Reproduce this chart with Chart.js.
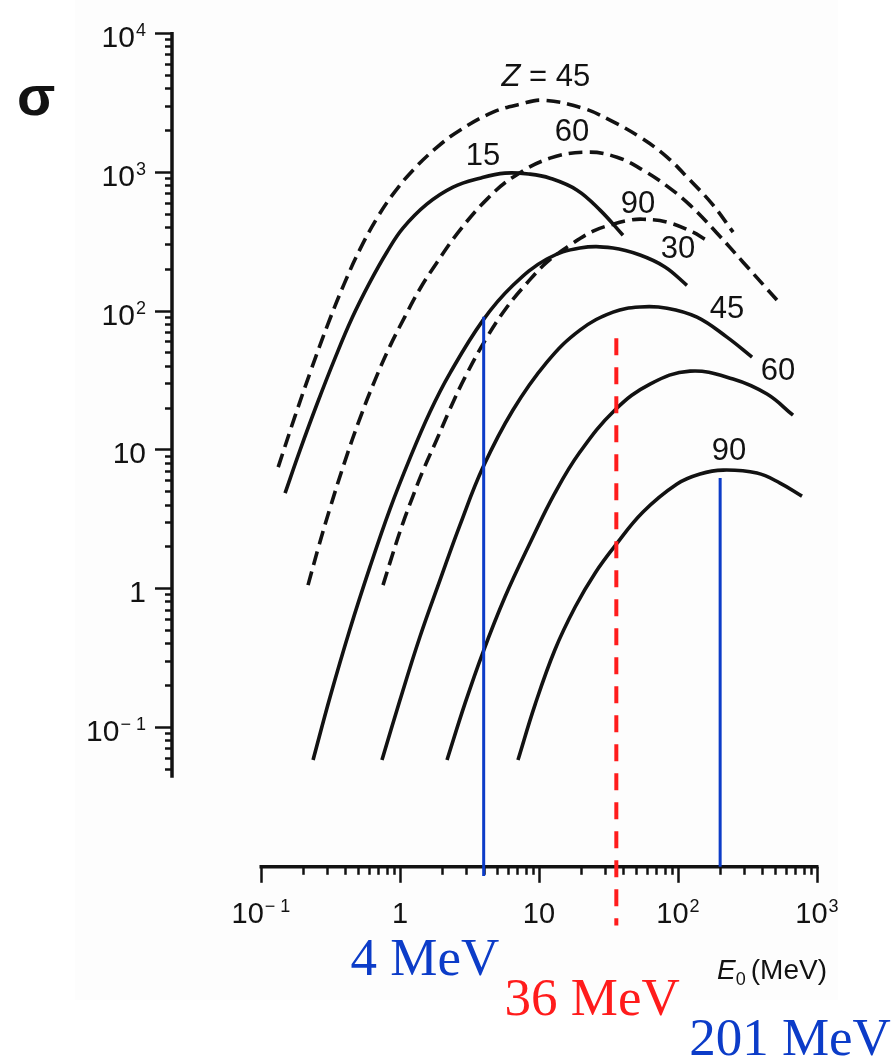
<!DOCTYPE html>
<html>
<head>
<meta charset="utf-8">
<script src="https://cdn.jsdelivr.net/npm/chart.js@4.4.1/dist/chart.umd.min.js"></script>
<style>
  html, body { margin: 0; padding: 0; background: #ffffff; }
  canvas { display: block; }
</style>
</head>
<body>
<canvas id="chart" width="893" height="1062"></canvas>
<script>
// Cross section sigma against incident energy E0 (MeV), log-log.
// Solid curves: Z = 15, 30, 45, 60, 90.  Dashed curves: Z = 45, 60, 90.

const solidE15 = [0.149, 0.191, 0.253, 0.341, 0.452, 0.608, 0.806, 1.05, 1.56, 2.41, 3.76, 5.69, 8.62, 12.0, 18.8, 27.5, 40.2];
const solidS15 = [4.83, 9.87, 21.2, 45.4, 88.2, 160, 264, 392, 584, 775, 899, 977, 961, 899, 737, 529, 349];

const solidE30 = [0.237, 0.314, 0.437, 0.608, 0.847, 1.18, 1.64, 2.29, 3.96, 6.50, 11.4, 19.7, 34.1, 53.3, 80.6, 116];
const solidS30 = [0.0577, 0.164, 0.507, 1.42, 3.71, 8.64, 18.5, 35.4, 85.3, 152, 235, 282, 282, 251, 206, 152];

const solidE45 = [0.742, 1.0, 1.39, 1.94, 2.70, 3.96, 6.50, 11.4, 19.7, 34.1, 53.3, 83.4, 137, 225, 341];
const solidS45 = [0.0577, 0.156, 0.444, 1.14, 2.84, 7.44, 19.2, 42.5, 72.3, 97.4, 106, 104, 89.6, 64.3, 46.2];

const solidE60 = [2.18, 2.94, 3.96, 5.69, 8.62, 13.0, 19.7, 35.2, 62.9, 122, 249, 437, 672];
const solidS60 = [0.0577, 0.148, 0.346, 0.861, 2.11, 4.83, 9.55, 19.2, 29.5, 36.6, 32.1, 25.0, 17.6];

const solidE90 = [7.06, 9.36, 13.0, 18.2, 25.3, 35.2, 56.0, 98.4, 144, 211, 370, 542, 780];
const solidS90 = [0.0577, 0.144, 0.358, 0.730, 1.28, 2.01, 3.53, 5.62, 6.63, 7.08, 6.74, 5.71, 4.60];

const dashE45 = [0.133, 0.176, 0.229, 0.303, 0.396, 0.516, 0.683, 0.891, 1.24, 1.85, 2.70, 4.67, 7.30, 10.7, 20.7, 32.4, 53.3, 83.4, 122, 179, 249];
const dashS45 = [7.44, 17.4, 37.2, 79.8, 155, 277, 463, 690, 1027, 1504, 1994, 2688, 3069, 3280, 2872, 2353, 1776, 1274, 870, 575, 367];

const dashE60 = [0.218, 0.257, 0.314, 0.402, 0.516, 0.661, 0.847, 1.09, 1.39, 1.85, 2.70, 4.23, 6.50, 12.0, 22.2, 36.4, 56.0, 83.4, 122, 191, 294, 515];
const dashS60 = [1.05, 1.91, 3.77, 8.22, 16.8, 31.5, 55.4, 91.1, 143, 223, 380, 635, 914, 1253, 1384, 1274, 1027, 788, 575, 361, 223, 119];

const dashE90 = [0.755, 0.891, 1.05, 1.24, 1.46, 1.85, 2.29, 2.94, 4.23, 5.89, 8.20, 11.4, 16.7, 24.5, 34.1, 45.2, 56.0, 83.4, 128, 156];
const dashS90 = [1.05, 1.79, 2.94, 4.60, 6.97, 11.9, 19.5, 33.1, 64.3, 106, 158, 223, 296, 373, 419, 448, 455, 434, 367, 327];

// Marker energies (MeV) with the sigma span each marker line covers
const markerE = [4, 36, 201];
const markerTop = [90, 63, 6.2];
const markerBottom = [0.0084, 0.0037, 0.0098];
const markerText = ['4 MeV', '36 MeV', '201 MeV'];

// Axis ticks
const yTickValues = [1e4, 1e3, 1e2, 10, 1, 0.1];
const yTickBase = ['10', '10', '10', '10', '1', '10'];
const yTickSup = ['4', '3', '2', '', '', '\u2212 1'];
const xTickValues = [0.1, 1, 10, 100, 1000];
const xTickBase = ['10', '1', '10', '10', '10'];
const xTickSup = ['\u2212 1', '', '', '2', '3'];

// Curve names placed next to each curve (E0, sigma)
const curveLabelText = ['= 45', '15', '60', '90', '30', '45', '60', '90'];
const curveLabelE = [11.2, 3.96, 17.3, 51.5, 100, 225, 524, 233];
const curveLabelS = [4800, 1295, 1929, 584, 277, 102, 36.6, 9.7];

// ---------------------------------------------------------------------
const X_MIN = 0.0229, X_MAX = 1000;
const Y_MIN = 0.00316, Y_MAX = 1e4;
const Y_AXIS_LOW = 0.043;     // lower end of the sigma axis line
const X_AXIS_AT = 0.0098;     // sigma level at which the E0 axis is drawn

const INK = '#121212';
const BLUE = '#0c3cc8';
const RED = '#ff1c1c';
const SANS = "'Liberation Sans', Arial, Helvetica, sans-serif";
const SERIF = "'Liberation Serif', 'Times New Roman', serif";

function pts(es, ss) { return es.map((e, i) => ({ x: e, y: ss[i] })); }

function curve(es, ss, dashed) {
  return {
    data: pts(es, ss),
    borderColor: INK,
    borderWidth: 3.6,
    borderDash: dashed ? [14, 7] : [],
    borderCapStyle: 'butt',
    tension: 0.4,
    pointRadius: 0,
    fill: false,
    order: 2
  };
}

const markerColors = [BLUE, RED, BLUE];
const markerSets = markerE.map((e, i) => ({
  data: [{ x: e, y: markerTop[i] }, { x: e, y: markerBottom[i] }],
  borderColor: markerColors[i],
  borderWidth: i === 1 ? 4 : 3,
  borderDash: i === 1 ? [17, 12] : [],
  borderCapStyle: 'butt',
  tension: 0,
  pointRadius: 0,
  fill: false,
  order: 1
}));

function drawPower(ctx, base, sup, x, y, align, size, supSize, supRise) {
  ctx.font = size + 'px ' + SANS;
  const wb = ctx.measureText(base).width;
  ctx.font = supSize + 'px ' + SANS;
  const ws = sup ? ctx.measureText(sup).width + 1 : 0;
  const total = wb + ws;
  const x0 = align === 'right' ? x - total : x - total / 2;
  ctx.textAlign = 'left';
  ctx.textBaseline = 'alphabetic';
  ctx.font = size + 'px ' + SANS;
  ctx.fillText(base, x0, y);
  if (sup) {
    ctx.font = supSize + 'px ' + SANS;
    ctx.fillText(sup, x0 + wb + 1, y - supRise);
  }
}

const paperPlugin = {
  id: 'paper',
  beforeDraw(chart) {
    const ctx = chart.ctx;
    ctx.save();
    ctx.fillStyle = '#ffffff';
    ctx.fillRect(0, 0, chart.width, chart.height);
    ctx.fillStyle = '#fdfdfd';
    ctx.fillRect(75, 0, 763, 1000);
    ctx.restore();
  }
};

const axesPlugin = {
  id: 'axes',
  beforeDatasetsDraw(chart) {
    const ctx = chart.ctx;
    const xs = chart.scales.x, ys = chart.scales.y;
    ctx.save();
    ctx.strokeStyle = INK;
    ctx.fillStyle = INK;
    ctx.lineCap = 'butt';

    // sigma axis
    const ax = xs.getPixelForValue(X_MIN);
    const yTop = ys.getPixelForValue(Y_MAX);
    const yLow = ys.getPixelForValue(Y_AXIS_LOW);
    ctx.lineWidth = 3.5;
    ctx.beginPath();
    ctx.moveTo(ax, yTop - 1);
    ctx.lineTo(ax, yLow);
    ctx.stroke();
    ctx.lineWidth = 2.5;
    for (let n = -2; n <= 3; n++) {
      for (let k = 1; k <= 9; k++) {
        const v = k * Math.pow(10, n);
        if (v < Y_AXIS_LOW || v > Y_MAX) continue;
        const py = Math.round(ys.getPixelForValue(v)) + 0.5;
        const len = k === 1 ? 17 : 7;
        ctx.beginPath();
        ctx.moveTo(ax - len, py);
        ctx.lineTo(ax, py);
        ctx.stroke();
      }
    }
    ctx.beginPath();
    ctx.moveTo(ax - 17, Math.round(yTop) + 0.5);
    ctx.lineTo(ax, Math.round(yTop) + 0.5);
    ctx.stroke();
    yTickValues.forEach((v, i) => {
      const py = ys.getPixelForValue(v);
      drawPower(ctx, yTickBase[i], yTickSup[i], ax - 26, py + 14, 'right', 30, 18, 11);
    });

    // E0 axis
    const axy = ys.getPixelForValue(X_AXIS_AT);
    const xl = xs.getPixelForValue(0.1), xr = xs.getPixelForValue(1000);
    ctx.lineWidth = 3.5;
    ctx.beginPath();
    ctx.moveTo(xl - 1.5, axy);
    ctx.lineTo(xr + 1.5, axy);
    ctx.stroke();
    ctx.lineWidth = 2.5;
    for (let n = -1; n <= 3; n++) {
      for (let k = 1; k <= 9; k++) {
        const v = k * Math.pow(10, n);
        if (v < 0.1 || v > 1000) continue;
        const px = Math.round(xs.getPixelForValue(v)) + 0.5;
        const len = k === 1 ? 16 : 8;
        ctx.beginPath();
        ctx.moveTo(px, axy);
        ctx.lineTo(px, axy + len);
        ctx.stroke();
      }
    }
    xTickValues.forEach((v, i) => {
      const px = xs.getPixelForValue(v);
      drawPower(ctx, xTickBase[i], xTickSup[i], px, axy + 56, 'center', 29, 18, 11);
    });
    ctx.restore();
  },
  afterDatasetsDraw(chart) {
    const ctx = chart.ctx;
    const xs = chart.scales.x, ys = chart.scales.y;
    ctx.save();
    ctx.fillStyle = INK;
    ctx.textBaseline = 'middle';

    // curve names
    const LBL = '31px ' + SANS;
    curveLabelText.forEach((t, i) => {
      const px = xs.getPixelForValue(curveLabelE[i]);
      const py = ys.getPixelForValue(curveLabelS[i]);
      if (i === 0) {
        ctx.font = 'italic ' + LBL;
        const wz = ctx.measureText('Z ').width;
        ctx.font = LBL;
        const wt = ctx.measureText(t).width;
        const x0 = px - (wz + wt) / 2;
        ctx.textAlign = 'left';
        ctx.font = 'italic ' + LBL;
        ctx.fillText('Z', x0, py);
        ctx.font = LBL;
        ctx.fillText(t, x0 + wz, py);
      } else {
        ctx.textAlign = 'center';
        ctx.font = LBL;
        ctx.fillText(t, px, py);
      }
    });

    // sigma axis title
    ctx.textAlign = 'center';
    ctx.textBaseline = 'alphabetic';
    ctx.font = 'bold 56px ' + SANS;
    ctx.fillText('\u03c3', xs.getPixelForValue(0.00241), ys.getPixelForValue(2550));

    // E0 axis title
    const ux = xs.getPixelForValue(191), uy = ys.getPixelForValue(0.00153);
    ctx.textAlign = 'left';
    ctx.font = 'italic 28px ' + SANS;
    ctx.fillText('E', ux, uy);
    const we = ctx.measureText('E').width;
    ctx.font = '18px ' + SANS;
    ctx.fillText('0', ux + we, uy + 6);
    const w0 = ctx.measureText('0').width;
    ctx.font = '28px ' + SANS;
    ctx.fillText('(MeV)', ux + we + w0 + 5, uy);

    // marker captions
    const capE = [1.51, 24.1, 639];
    const capS = [0.00163, 0.00084, 0.00043];
    ctx.textAlign = 'center';
    ctx.font = '53px ' + SERIF;
    markerText.forEach((t, i) => {
      ctx.fillStyle = markerColors[i];
      ctx.fillText(t, xs.getPixelForValue(capE[i]), ys.getPixelForValue(capS[i]));
    });
    ctx.restore();
  }
};

new Chart(document.getElementById('chart'), {
  type: 'line',
  data: {
    datasets: [
      ...markerSets,
      curve(dashE45, dashS45, true),
      curve(dashE60, dashS60, true),
      curve(dashE90, dashS90, true),
      curve(solidE15, solidS15, false),
      curve(solidE30, solidS30, false),
      curve(solidE45, solidS45, false),
      curve(solidE60, solidS60, false),
      curve(solidE90, solidS90, false)
    ]
  },
  options: {
    responsive: false,
    animation: false,
    devicePixelRatio: 1,
    layout: { padding: { left: 172, right: 76, top: 33, bottom: 127 } },
    plugins: { legend: { display: false }, tooltip: { enabled: false } },
    elements: { point: { radius: 0 } },
    scales: {
      x: { type: 'logarithmic', min: X_MIN, max: X_MAX, display: false },
      y: { type: 'logarithmic', min: Y_MIN, max: Y_MAX, display: false }
    }
  },
  plugins: [paperPlugin, axesPlugin]
});
</script>
</body>
</html>
